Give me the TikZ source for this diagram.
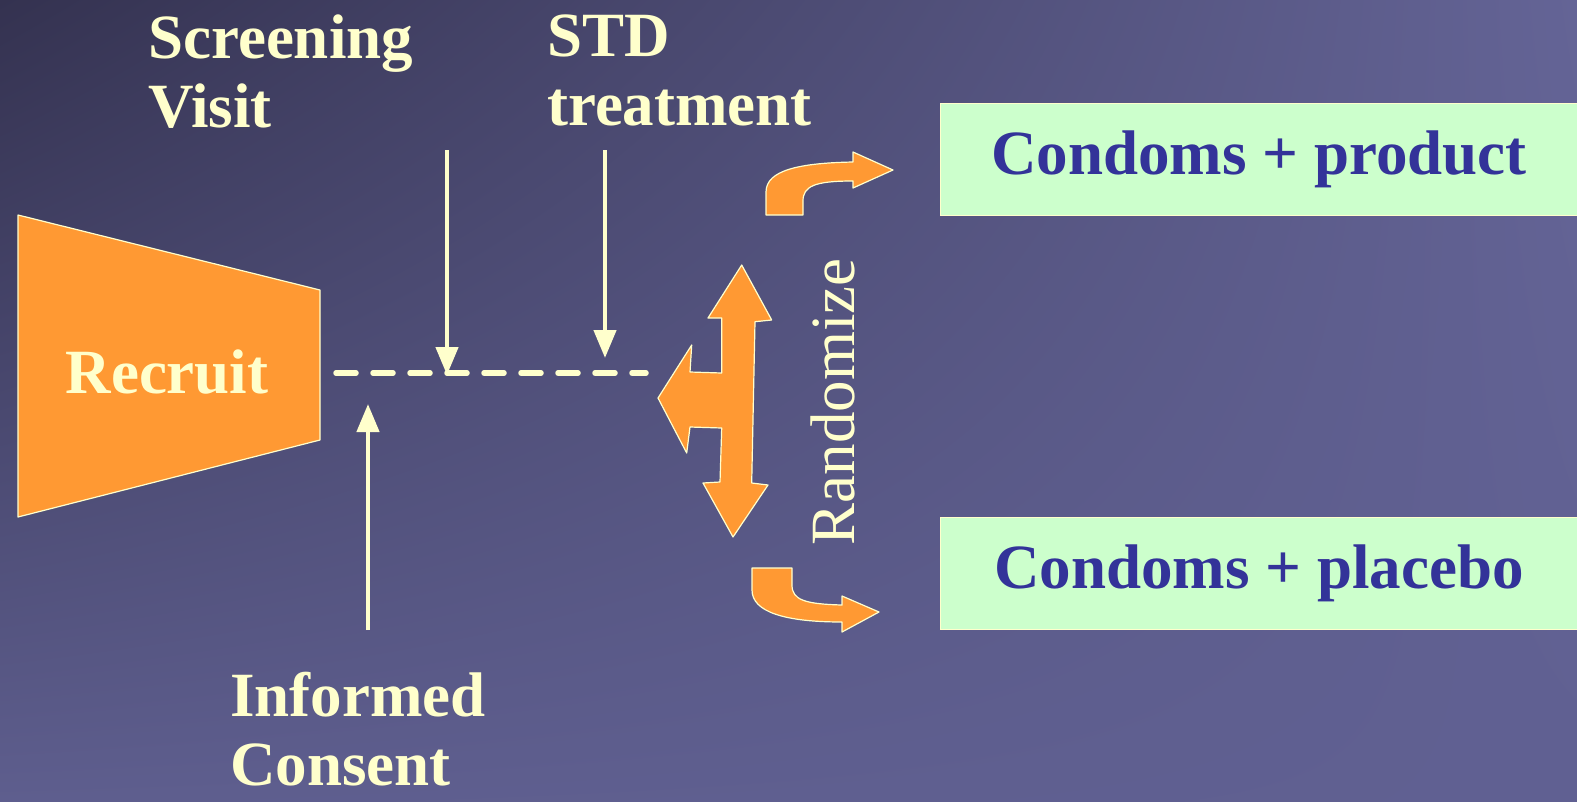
\documentclass[tikz,border=0pt]{standalone}
\usepackage{fontspec}
\setmainfont{Liberation Serif}
\usetikzlibrary{arrows.meta,shadings}
\definecolor{bgA}{RGB}{52,50,80}
\definecolor{bgB}{RGB}{100,100,150}
\definecolor{bgC}{RGB}{94,94,142}
\definecolor{bgD}{RGB}{96,96,146}
\definecolor{cream}{RGB}{255,255,204}
\definecolor{orng}{RGB}{255,153,51}
\definecolor{pgreen}{RGB}{204,255,204}
\definecolor{navy}{RGB}{51,51,153}
\begin{document}
\begin{tikzpicture}[x=1pt,y=-1pt,
  lbl/.style={font=\fontsize{63}{69}\selectfont\bfseries, text=cream, inner sep=0pt, align=left},
  orangeshape/.style={fill=orng, draw=cream, line width=1.2pt, line join=round},
  gbox/.style={fill=pgreen, draw=cream, line width=1.2pt, minimum width=637pt, minimum height=112pt, inner sep=0pt,
    font=\fontsize{63}{69}\selectfont\bfseries, text=navy},
  dashline/.style={draw=cream, line width=5.5pt, line cap=round, dash pattern=on 20pt off 17pt},
  carrow/.style={draw=cream, line width=4.5pt, -{Triangle[width=22pt,length=28pt]}}
]
\useasboundingbox (0,0) rectangle (1577,801);
\shade[upper left=bgA, upper right=bgB, lower left=bgC, lower right=bgD] (0,0) rectangle (1577,801);

% Recruit
\draw[orangeshape] (18,215) -- (320,290) -- (320,440) -- (18,517) -- cycle;
\node[lbl] (recruit) at (167,372) {Recruit};

% dashed timeline
\coordinate (dl) at (336,373);
\coordinate (dr) at (646,373);
\draw[dashline] (dl) -- (dr);

% labels
\node[lbl, anchor=north west] (screen) at (148,15) {Screening\\Visit};
\node[lbl, anchor=north west] (std) at (547,15) {STD\\treatment};
\node[lbl, anchor=north west] (consent) at (230,672) {Informed\\Consent};

\coordinate (s1) at (447,150);
\coordinate (s2) at (447,375);
\coordinate (t1) at (605,150);
\coordinate (t2) at (605,358);
\coordinate (c1) at (368,630);
\coordinate (c2) at (368,404);
\draw[carrow] (s1) -- (s2);
\draw[carrow] (t1) -- (t2);
\draw[carrow] (c1) -- (c2);

% three-way arrow
\draw[orangeshape] (741.7,265) -- (771.7,320) -- (755,321.7) -- (751.7,483) -- (768,485) -- (733,537)
  -- (703,483) -- (720,482) -- (721.7,428) -- (690,427) -- (686.7,453) -- (658,398)
  -- (691.7,345) -- (690,372) -- (721.7,373) -- (721.7,318) -- (708,318) -- cycle;

% curved arrows
\draw[orangeshape] (766,215) -- (766,192) .. controls (766,170) and (800,163) .. (853,162)
  -- (853,152) -- (893,170) -- (853,188) -- (853,181) .. controls (815,181) and (803,186) .. (803,201)
  -- (803,215) -- cycle;
\draw[orangeshape] (752,568) -- (752,590) .. controls (752,612) and (785,622) .. (842,622)
  -- (842,632) -- (879,612) -- (842,596) -- (842,605) .. controls (805,604) and (792,600) .. (792,585)
  -- (792,568) -- cycle;

\node[rotate=90, text=cream, font=\fontsize{63}{69}\selectfont, inner sep=0pt] (rand) at (833,402) {Randomize};

% outcome boxes
\node[gbox, anchor=north west] (prod) at (940,103) {Condoms + product};
\node[gbox, anchor=north west] (plac) at (940,517) {Condoms + placebo};
\end{tikzpicture}
\end{document}
